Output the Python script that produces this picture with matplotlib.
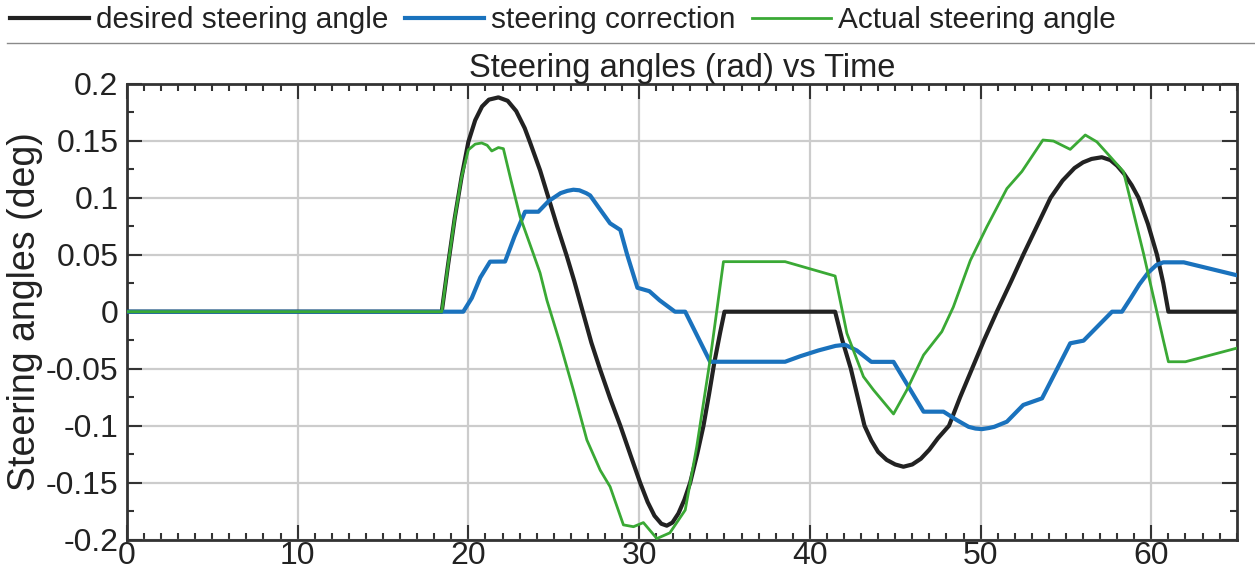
import matplotlib
matplotlib.use("Agg")
import matplotlib.pyplot as plt
from matplotlib.lines import Line2D
from matplotlib.ticker import MultipleLocator, FixedLocator, FixedFormatter

plt.rcParams['font.family'] = ['Liberation Sans', 'DejaVu Sans']

# ---------------- data ----------------
desired_t = [0, 18.44, 18.8, 19.2, 19.6, 20.0, 20.4, 20.8, 21.2, 21.76, 22.3, 22.8, 23.3, 23.6,
             24.2, 24.7, 25.2, 25.76, 26.2, 26.7, 27.2, 27.7, 28.3, 28.9, 29.5, 30.06, 30.5,
             30.9, 31.3, 31.62, 31.95, 32.3, 32.65, 32.99, 33.4, 33.77, 34.1, 34.4, 34.75, 35.0,
             41.48, 41.9, 42.4, 42.8, 43.2, 43.6, 44.0, 44.5, 45.0, 45.48, 46.0, 46.5, 47.0,
             47.5, 48.15, 48.8, 49.5, 50.2, 50.95, 51.8, 52.5, 53.3, 54.1, 54.8, 55.5, 56.0,
             56.5, 57.1, 57.6, 58.0, 58.4, 58.85, 59.25, 59.8, 60.33, 60.7, 61.0, 65.0]
desired_v = [0, 0, 0.040, 0.082, 0.118, 0.149, 0.168, 0.180, 0.186, 0.188, 0.185, 0.176, 0.161,
             0.149, 0.124, 0.0995, 0.075, 0.049, 0.027, 0.0, -0.027, -0.05, -0.076, -0.1,
             -0.126, -0.15, -0.167, -0.179, -0.186, -0.1877, -0.185, -0.177, -0.165, -0.15,
             -0.125, -0.1, -0.072, -0.045, -0.018, 0, 0, -0.025, -0.05, -0.075, -0.1, -0.113,
             -0.123, -0.130, -0.134, -0.136, -0.134, -0.129, -0.121, -0.111, -0.1, -0.075,
             -0.05, -0.025, 0, 0.027, 0.05, 0.075, 0.1, 0.115, 0.126, 0.131, 0.134, 0.1355,
             0.133, 0.128, 0.121, 0.111, 0.1, 0.077, 0.05, 0.025, 0, 0]

correction_t = [0, 19.7, 20.2, 20.7, 21.27, 22.15, 22.7, 23.32, 24.1, 24.7, 25.4, 25.8, 26.15,
                26.5, 26.9, 27.13, 27.7, 28.3, 28.9, 29.3, 29.9, 30.6, 31.2, 32.1, 32.7, 34.16,
                38.55, 39.45, 40.5, 41.5, 42.06, 42.75, 43.6, 44.9, 46.66, 47.83, 48.6, 49.3,
                49.7, 50.08, 50.5, 50.8, 51.54, 52.5, 53.6, 55.25, 56.03, 57.7, 58.28, 58.8,
                59.3, 59.8, 60.3, 60.7, 61.9, 65.0]
correction_v = [0, 0, 0.012, 0.030, 0.0439, 0.044, 0.066, 0.0877, 0.0877, 0.097, 0.104, 0.106,
                0.107, 0.1065, 0.104, 0.102, 0.090, 0.0775, 0.0717, 0.050, 0.021, 0.018, 0.010,
                0.0, 0.0, -0.0439, -0.0439, -0.039, -0.034, -0.030, -0.029, -0.034, -0.044,
                -0.044, -0.0877, -0.0877, -0.095, -0.101, -0.1025, -0.103, -0.102, -0.101,
                -0.0965, -0.0818, -0.076, -0.0277, -0.0254, 0, 0, 0.012, 0.024, 0.034, 0.041,
                0.0433, 0.0433, 0.032]

actual_t = [0, 18.44, 18.8, 19.2, 19.6, 20.0, 20.4, 20.78, 21.1, 21.37, 21.76, 22.05, 22.5,
            23.03, 23.8, 24.2, 24.6, 25.37, 26.15, 26.94, 27.72, 28.3, 29.08, 29.67, 30.25,
            31.04, 31.8, 32.7, 33.38, 34.16, 34.94, 38.55, 41.48, 42.17, 43.14, 43.73, 44.9,
            45.68, 46.66, 47.73, 48.4, 49.4, 50.37, 51.54, 52.42, 53.65, 54.27, 55.25, 56.13,
            56.81, 57.59, 58.37, 59.54, 60.7, 61.0, 62.0, 65.0]
actual_v = [0, 0, 0.040, 0.082, 0.118, 0.142, 0.147, 0.148, 0.146, 0.141, 0.144, 0.143, 0.115,
            0.0833, 0.051, 0.034, 0.010, -0.0277, -0.0687, -0.1125, -0.139, -0.1535, -0.187,
            -0.1886, -0.185, -0.199, -0.194, -0.174, -0.118, -0.042, 0.0439, 0.0439, 0.0313,
            -0.019, -0.057, -0.0687, -0.0897, -0.0687, -0.038, -0.0175, 0.004, 0.045, 0.0746,
            0.108, 0.123, 0.1506, 0.1497, 0.1424, 0.155, 0.149, 0.136, 0.1228, 0.0512,
            -0.0248, -0.0439, -0.0439, -0.032]

series_labels = ['desired steering angle', 'steering correction', 'Actual steering angle']
y_ticks = [-0.2, -0.15, -0.1, -0.05, 0, 0.05, 0.1, 0.15, 0.2]
y_tick_labels = ['-0.2', '-0.15', '-0.1', '-0.05', '0', '0.05', '0.1', '0.15', '0.2']
x_ticks = [0, 10, 20, 30, 40, 50, 60]

# ---------------- figure ----------------
W, H = 1255, 571
fig = plt.figure(figsize=(W / 100, H / 100), dpi=100)
ax = fig.add_axes([126.9 / W, 1 - 539.7 / H, (1236.7 - 126.9) / W, (539.7 - 83.7) / H])

c_black = '#222222'
c_blue = '#1a72bd'
c_green = '#3aa935'

l1, = ax.plot(desired_t, desired_v, color=c_black, lw=3.0, label=series_labels[0], zorder=3,
              solid_joinstyle='round')
l2, = ax.plot(correction_t, correction_v, color=c_blue, lw=3.0, label=series_labels[1], zorder=3,
              solid_joinstyle='round')
l3, = ax.plot(actual_t, actual_v, color=c_green, lw=2.0, label=series_labels[2], zorder=4,
              solid_joinstyle='round')

ax.set_xlim(0, 65)
ax.set_ylim(-0.2, 0.2)
ax.xaxis.set_major_locator(FixedLocator(x_ticks))
ax.xaxis.set_minor_locator(MultipleLocator(1))
ax.yaxis.set_major_locator(FixedLocator(y_ticks))
ax.yaxis.set_major_formatter(FixedFormatter(y_tick_labels))
ax.yaxis.set_minor_locator(MultipleLocator(0.025))

ax.grid(True, which='major', color='#cccccc', lw=1.6, zorder=0)
ax.set_axisbelow(True)

ax.tick_params(which='both', direction='in', top=True, right=True, color='#333333',
               labelsize=23, labelcolor='#222222')
ax.tick_params(which='major', length=11, width=1.5)
ax.tick_params(which='minor', length=5, width=1.5)
ax.tick_params(axis='y', which='major', pad=6)
ax.tick_params(axis='x', which='major', pad=1)
for s in ax.spines.values():
    s.set_linewidth(2.0)
    s.set_color('#333333')

ax.set_title('Steering angles (rad) vs Time', fontsize=23.5, color='#222222', pad=2)
ax.set_ylabel('Steering angles (deg)', fontsize=27, color='#222222', labelpad=2)

fig.legend(handles=[l1, l2, l3], loc='center left', bbox_to_anchor=(10 / W, 1 - 20 / H),
           ncol=3, frameon=False, fontsize=21.4, handlelength=2.65, handletextpad=0.25,
           columnspacing=0.55, borderpad=0, borderaxespad=0, labelcolor='#222222')

fig.add_artist(Line2D([7 / W, 1.0], [1 - 43 / H, 1 - 43 / H], color='#8a8a8a', lw=1.0))

fig.savefig('out.png', dpi=100)
